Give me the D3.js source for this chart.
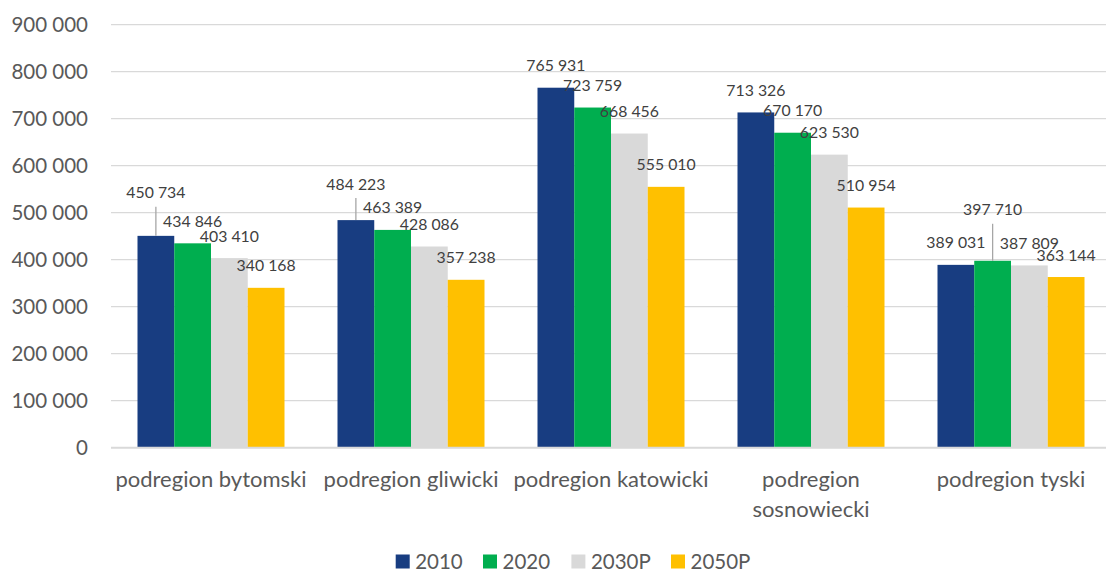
<!DOCTYPE html>
<html>
<head>
<meta charset="utf-8">
<script src="https://cdn.jsdelivr.net/npm/d3@7"></script>
<style>
  html, body { margin: 0; padding: 0; background: #fff; }
  svg { display: block; font-family: Lato, "Open Sans", sans-serif; }
</style>
</head>
<body>
<svg id="chart" width="1106" height="570"></svg>
<script>
// ---- data ----
const categories = ["podregion bytomski", "podregion gliwicki", "podregion katowicki", "podregion sosnowiecki", "podregion tyski"];
const seriesNames = ["2010", "2020", "2030P", "2050P"];
const values2010  = [450734, 484223, 765931, 713326, 389031];
const values2020  = [434846, 463389, 723759, 670170, 397710];
const values2030P = [403410, 428086, 668456, 623530, 387809];
const values2050P = [340168, 357238, 555010, 510954, 363144];
const yTicks = [0, 100000, 200000, 300000, 400000, 500000, 600000, 700000, 800000, 900000];

const seriesValues = [values2010, values2020, values2030P, values2050P];
const colors = ["#183D81", "#00AE4F", "#D9D9D9", "#FFC000"];

// labels moved up by hand in the original, with leader lines (category index, series index, extra lift px)
const liftedLabels = [[0, 0, 21], [1, 0, 14], [4, 1, 29]];

const svg = d3.select("#chart");
const W = 1106, H = 570;
const plotLeft = 111, plotRight = 1111, plotTop = 24.7, plotBottom = 447.7;

const x0 = d3.scaleBand().domain(categories).range([plotLeft, plotRight]).paddingInner(0.265).paddingOuter(0.1325);
const x1 = d3.scaleBand().domain(seriesNames).range([0, x0.bandwidth()]);
const y = d3.scaleLinear().domain([0, 900000]).range([plotBottom, plotTop]);

const fmt = v => d3.format(",")(v).replace(/,/g, " ");
const textColor = "#595959";

// gridlines
svg.append("g").selectAll("line").data(yTicks.filter(t => t > 0)).join("line")
  .attr("x1", plotLeft).attr("x2", W)
  .attr("y1", d => y(d)).attr("y2", d => y(d))
  .attr("stroke", "#D9D9D9").attr("stroke-width", 1.3);

// y axis labels
const yAxis = d3.axisLeft(y).tickValues(yTicks).tickFormat(fmt).tickSize(0).tickPadding(0);
const gy = svg.append("g").attr("transform", "translate(88,0)").call(yAxis);
gy.select(".domain").remove();
gy.selectAll("text").attr("fill", textColor).style("font-size", "20.5px").style("font-family", "Lato, 'Open Sans', sans-serif");

// bars
const rows = [];
categories.forEach((c, ci) => seriesNames.forEach((s, si) => rows.push({c, ci, s, si, v: seriesValues[si][ci]})));

svg.append("g").selectAll("rect").data(rows).join("rect")
  .attr("x", d => x0(d.c) + x1(d.s))
  .attr("y", d => y(d.v))
  .attr("width", x1.bandwidth())
  .attr("height", d => y(0) - y(d.v))
  .attr("fill", d => colors[d.si]);

// zero axis line
svg.append("line").attr("x1", plotLeft).attr("x2", W).attr("y1", y(0)).attr("y2", y(0))
  .attr("stroke", "#D9D9D9").attr("stroke-width", 2);

// data labels
const liftOf = d => { const m = liftedLabels.find(l => l[0] === d.ci && l[1] === d.si); return m ? m[2] : 0; };
const gl = svg.append("g");
rows.forEach(d => {
  const cx = x0(d.c) + x1(d.s) + x1.bandwidth() / 2;
  const lift = liftOf(d);
  const cy = y(d.v) - 22 - lift;
  if (lift > 0) {
    gl.append("line").attr("x1", cx).attr("x2", cx).attr("y1", cy + 14).attr("y2", y(d.v))
      .attr("stroke", "#A6A6A6").attr("stroke-width", 1.3);
  }
  gl.append("text").attr("x", cx).attr("y", cy).attr("dy", "0.35em")
    .attr("text-anchor", "middle").attr("fill", "#404040")
    .style("font-size", "15.8px").text(fmt(d.v));
});

// category labels (wrap when wider than band step)
const gx = svg.append("g");
categories.forEach(c => {
  const cx = x0(c) + x0.bandwidth() / 2;
  const t = gx.append("text").attr("x", cx).attr("y", 479).attr("dy", "0.35em")
    .attr("text-anchor", "middle").attr("fill", textColor).style("font-size", "22px").text(c);
  if (t.node().getComputedTextLength() > x0.step()) {
    const words = c.split(" ");
    t.text(null);
    words.forEach((w, i) => t.append("tspan").attr("x", cx).attr("dy", i === 0 ? "0.35em" : "30px").text(w));
  }
});

// legend
const legendX = [395.7, 483, 571.4, 671];
const lg = svg.append("g");
seriesNames.forEach((s, i) => {
  lg.append("rect").attr("x", legendX[i]).attr("y", 554.5).attr("width", 14).attr("height", 14).attr("fill", colors[i]);
  lg.append("text").attr("x", legendX[i] + 19.5).attr("y", 561.5).attr("dy", "0.35em")
    .attr("fill", textColor).style("font-size", "20.5px").text(s);
});
</script>
</body>
</html>
